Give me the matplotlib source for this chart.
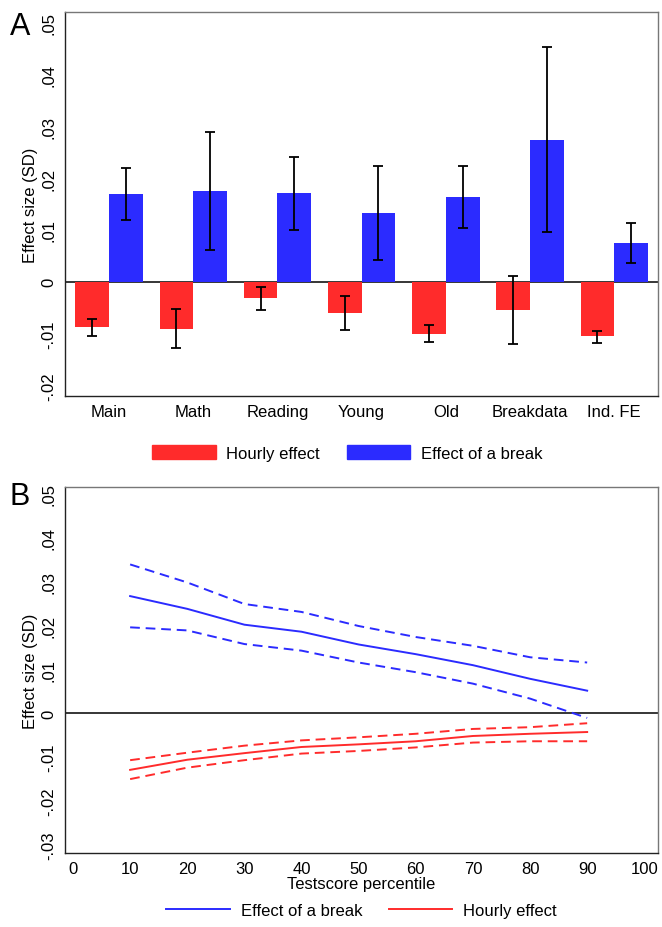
import numpy as np
import matplotlib
matplotlib.use("Agg")
import matplotlib.pyplot as plt
from matplotlib.patches import Patch
from matplotlib.lines import Line2D
from matplotlib.ticker import FuncFormatter

plt.rcParams['font.family'] = ['Liberation Sans', 'DejaVu Sans']

# Panel A data
categories = ["Main", "Math", "Reading", "Young", "Old", "Breakdata", "Ind. FE"]
hourly = [-0.0087, -0.0090, -0.0031, -0.0060, -0.0100, -0.0054, -0.0104]
hourly_lo = [-0.0104, -0.0127, -0.0055, -0.0092, -0.0115, -0.0120, -0.0117]
hourly_hi = [-0.0071, -0.0052, -0.0010, -0.0027, -0.0083, 0.0012, -0.0094]
brk = [0.0169, 0.0175, 0.0171, 0.0133, 0.0163, 0.0273, 0.0075]
brk_lo = [0.0119, 0.0062, 0.0100, 0.0042, 0.0104, 0.0096, 0.0037]
brk_hi = [0.0219, 0.0288, 0.0240, 0.0223, 0.0223, 0.0452, 0.0113]

# Panel B data
pct = [10, 20, 30, 40, 50, 60, 70, 80, 90]
brk_line = [0.0266, 0.0237, 0.0201, 0.0185, 0.0156, 0.0134, 0.0109, 0.0078, 0.0051]
brk_line_hi = [0.0338, 0.0297, 0.0248, 0.0230, 0.0198, 0.0173, 0.0153, 0.0127, 0.0115]
brk_line_lo = [0.0195, 0.0188, 0.0157, 0.0142, 0.0115, 0.0093, 0.0067, 0.0033, -0.0011]
hr_line = [-0.0129, -0.0106, -0.0091, -0.0077, -0.0071, -0.0064, -0.0052, -0.0047, -0.0043]
hr_line_hi = [-0.0107, -0.0090, -0.0074, -0.0062, -0.0055, -0.0047, -0.0036, -0.0032, -0.0023]
hr_line_lo = [-0.0150, -0.0124, -0.0107, -0.0092, -0.0086, -0.0078, -0.0067, -0.0064, -0.0064]

RED = '#ff2b2b'
BLUE = '#2b2bff'
FS = 12
DASH = (5, 3)


def stata_fmt(v, pos):
    if abs(v) < 1e-9:
        return "0"
    s = f"{v:.2f}"
    return s.replace("0.", ".")


def style_axes(ax):
    for side in ['top', 'right']:
        ax.spines[side].set_color('#777777')
    for side in ['left', 'bottom']:
        ax.spines[side].set_color('#222222')
    for s in ax.spines.values():
        s.set_linewidth(1.0)
    ax.yaxis.set_major_formatter(FuncFormatter(stata_fmt))
    ax.tick_params(axis='both', length=0, labelsize=FS, pad=6)
    for lab in ax.get_yticklabels():
        lab.set_rotation(90)
        lab.set_va('center')
    ax.axhline(0, color='black', linewidth=1.1, zorder=1)


fig = plt.figure(figsize=(6.62, 9.28), dpi=100)

# ---- Panel A: bars with confidence intervals
axA = fig.add_axes([65 / 662, 1 - 397 / 928, 593 / 662, 384 / 928])
x = np.arange(len(categories))
w = 0.40
err_h = [np.array(hourly) - np.array(hourly_lo), np.array(hourly_hi) - np.array(hourly)]
err_b = [np.array(brk) - np.array(brk_lo), np.array(brk_hi) - np.array(brk)]
axA.bar(x - w / 2, hourly, w, color=RED, zorder=2)
axA.bar(x + w / 2, brk, w, color=BLUE, zorder=2)
axA.errorbar(x - w / 2, hourly, yerr=err_h, fmt='none', ecolor='black',
             elinewidth=1.3, capsize=3.5, capthick=1.3, zorder=3)
axA.errorbar(x + w / 2, brk, yerr=err_b, fmt='none', ecolor='black',
             elinewidth=1.3, capsize=3.5, capthick=1.3, zorder=3)
axA.set_xlim(-0.523, 6.52)
axA.set_ylim(-0.022, 0.052)
axA.set_yticks([-0.02, -0.01, 0, 0.01, 0.02, 0.03, 0.04, 0.05])
axA.set_xticks(x)
axA.set_xticklabels(categories)
axA.set_ylabel("Effect size (SD)", fontsize=FS, labelpad=3)
style_axes(axA)
axA.legend(handles=[Patch(color=RED, label="Hourly effect"),
                    Patch(color=BLUE, label="Effect of a break")],
           loc='center', bbox_to_anchor=(0.476, -0.148), ncol=2, frameon=False,
           fontsize=FS, handlelength=3.8, handleheight=0.9,
           handletextpad=0.65, columnspacing=1.6)
fig.text(10 / 662, 1 - 27 / 928, "A", fontsize=22, va='center', ha='left')

# ---- Panel B: effects by test score percentile
axB = fig.add_axes([65 / 662, 1 - 854 / 928, 593 / 662, 366 / 928])
axB.plot(pct, brk_line, color=BLUE, linewidth=1.4, zorder=3)
axB.plot(pct, brk_line_hi, color=BLUE, linewidth=1.4, dashes=DASH, zorder=3)
axB.plot(pct, brk_line_lo, color=BLUE, linewidth=1.4, dashes=DASH, zorder=3)
axB.plot(pct, hr_line, color=RED, linewidth=1.4, zorder=3)
axB.plot(pct, hr_line_hi, color=RED, linewidth=1.4, dashes=DASH, zorder=3)
axB.plot(pct, hr_line_lo, color=RED, linewidth=1.4, dashes=DASH, zorder=3)
axB.set_xlim(-1.4, 102.4)
axB.set_ylim(-0.0318, 0.0514)
axB.set_xticks(range(0, 101, 10))
axB.set_yticks([-0.03, -0.02, -0.01, 0, 0.01, 0.02, 0.03, 0.04, 0.05])
axB.set_xlabel("Testscore percentile", fontsize=FS, labelpad=0)
axB.set_ylabel("Effect size (SD)", fontsize=FS, labelpad=3)
style_axes(axB)
axB.legend(handles=[Line2D([], [], color=BLUE, linewidth=1.4, label="Effect of a break"),
                    Line2D([], [], color=RED, linewidth=1.4, label="Hourly effect")],
           loc='center', bbox_to_anchor=(0.5, -0.158), ncol=2, frameon=False,
           fontsize=FS, handlelength=3.8, handletextpad=0.65, columnspacing=1.6)
fig.text(10 / 662, 1 - 497 / 928, "B", fontsize=22, va='center', ha='left')

fig.savefig("out.png", dpi=100)
